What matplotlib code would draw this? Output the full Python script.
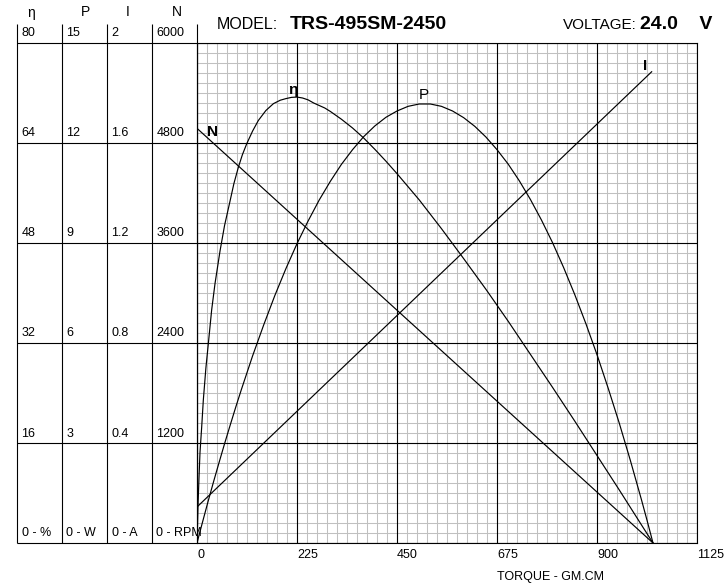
import matplotlib
matplotlib.use('Agg')
import matplotlib.pyplot as plt
import numpy as np
from matplotlib.ticker import FixedLocator

plt.rcParams['font.family'] = ['Liberation Sans', 'DejaVu Sans']

# ---------------- data ----------------
torque_eta = [0, 2.25, 4.5, 6.75, 10.5, 14.25, 20, 25.5, 33, 40.5, 51.75, 62, 74, 83, 93, 102,
              112, 125, 138, 155, 172, 187.5, 200, 212.5, 225, 237.5, 250, 262.5, 275, 287.5,
              300, 325, 350, 375, 400, 425, 450, 475, 500, 525, 550, 600, 650, 700, 750, 800,
              850, 900, 950, 1000, 1026]
efficiency = [0, 6, 10.5, 14.5, 18.5, 22.9, 28, 31.9, 37.3, 41.5, 46.7, 50.8, 54.6, 57.5, 60.1, 62.1,
              63.9, 65.9, 67.6, 69.2, 70.3, 70.85, 71.1, 71.3, 71.35, 71.2, 70.9, 70.4, 70.0, 69.6,
              69.05, 67.8, 66.4, 64.8, 63.0, 61.1, 59.1, 57.0, 54.9, 52.6, 50.3, 45.5, 40.6, 35.5, 30.2, 24.9,
              19.5, 14.0, 8.5, 2.9, 0]

torque_p = [0, 12.5, 25, 37.5, 50, 62.5, 75, 87.5, 100, 125, 150, 175, 200, 225, 250, 275, 300,
            325, 350, 375, 400, 425, 450, 475, 500, 525, 550, 575, 600, 625, 650, 675, 700, 725,
            750, 775, 800, 825, 850, 875, 900, 925, 950, 975, 1000, 1013, 1026]
power = [0, 0.63, 1.25, 1.85, 2.43, 3.00, 3.55, 4.09, 4.61, 5.61, 6.54, 7.42, 8.23, 8.98, 9.66,
         10.29, 10.85, 11.36, 11.80, 12.19, 12.51, 12.77, 12.96, 13.10, 13.17, 13.17, 13.10,
         12.96, 12.76, 12.50, 12.18, 11.80, 11.37, 10.87, 10.31, 9.69, 9.01, 8.26, 7.45, 6.58,
         5.65, 4.65, 3.60, 2.48, 1.30, 0.66, 0]

torque_n = [0, 1026]
speed = [4976, 0]

torque_i = [0, 1023]
current = [0.144, 1.885]

x_ticks = [0, 225, 450, 675, 900, 1125]
eta_scale = [0, 16, 32, 48, 64, 80]
p_scale = [0, 3, 6, 9, 12, 15]
i_scale = [0, 0.4, 0.8, 1.2, 1.6, 2]
n_scale = [0, 1200, 2400, 3600, 4800, 6000]
scale_names = ['η', 'P', 'I', 'N']
scale_units = ['%', 'W', 'A', 'RPM']

model = 'TRS-495SM-2450'
voltage = '24.0    V'

# ---------------- figure ----------------
W, H = 727, 587
fig = plt.figure(figsize=(W / 100, H / 100), dpi=100)
fig.patch.set_facecolor('white')

rect = [197 / W, 1 - 543 / H, 500 / W, 500 / H]
ax = fig.add_axes(rect)
ax.set_xlim(0, x_ticks[-1])
ax.set_ylim(eta_scale[0], eta_scale[-1])

minor_x = np.arange(0, x_ticks[-1] + 1e-6, 22.5)
minor_y = np.arange(0, eta_scale[-1] + 1e-6, 1.6)
ax.vlines(minor_x, 0, eta_scale[-1], color='#c0c0c0', lw=0.75, zorder=0.5)
ax.hlines(minor_y, 0, x_ticks[-1], color='#c0c0c0', lw=0.75, zorder=0.5)
ax.vlines(x_ticks, 0, eta_scale[-1], color='black', lw=0.8, zorder=1)
ax.hlines(eta_scale, 0, x_ticks[-1], color='black', lw=0.8, zorder=1)

ax.xaxis.set_major_locator(FixedLocator(x_ticks))
ax.set_xticklabels([str(t) for t in x_ticks])
ax.set_yticks([])
ax.tick_params(axis='x', length=0, pad=4, labelsize=9)
for lab in ax.get_xticklabels():
    lab.set_horizontalalignment('left')
for s in ax.spines.values():
    s.set_color('black')
    s.set_linewidth(0.8)

def twin(ylim):
    a = fig.add_axes(rect, sharex=ax)
    a.set_ylim(*ylim)
    a.axis('off')
    a.patch.set_alpha(0)
    return a

ax_p = twin((p_scale[0], p_scale[-1]))
ax_i = twin((i_scale[0], i_scale[-1]))
ax_n = twin((n_scale[0], n_scale[-1]))

lw = 0.85
ax.plot(torque_eta, efficiency, color='black', lw=lw, zorder=3)
ax_p.plot(torque_p, power, color='black', lw=lw)
ax_i.plot(torque_i, current, color='black', lw=lw)
ax_n.plot(torque_n, speed, color='black', lw=lw)

ax_n.text(22.5, 4880, 'N', fontsize=11, fontweight='bold', ha='left', va='baseline')
ax.text(205, 71.9, 'η', fontsize=11, fontweight='bold', ha='left', va='baseline', zorder=4)
ax_p.text(499, 13.32, 'P', fontsize=11, ha='left', va='baseline')
ax_i.text(1003, 1.894, 'I', fontsize=11, fontweight='bold', ha='left', va='baseline')

# ---------------- left scale panel ----------------
axl = fig.add_axes([17 / W, 1 - 543 / H, 180 / W, 500 / H])
axl.set_xlim(0, 4)
axl.set_ylim(0, 5)
axl.axis('off')
axl.vlines(range(5), 0, (543 - 24) / 100, color='black', lw=0.8, clip_on=False)
axl.hlines(range(6), 0, 4, color='black', lw=0.8, clip_on=False)

def fmt(v):
    return str(int(v)) if float(v).is_integer() else str(v)

scales = [eta_scale, p_scale, i_scale, n_scale]
for j, (vals, unit) in enumerate(zip(scales, scale_units)):
    for k, v in enumerate(vals):
        lab = f'0 - {unit}' if k == 0 else fmt(v)
        axl.text(j + 4.5 / 45, k + 3.5 / 100, lab, fontsize=9, ha='left', va='bottom',
                 clip_on=False)

header_x = [(31 - 17) / 45, (86 - 17) / 45, (128 - 17) / 45, (177 - 17) / 45]
for hx, name in zip(header_x, scale_names):
    axl.text(hx, (543 - 16.5) / 100, name, fontsize=10, ha='center', va='baseline',
             clip_on=False)

# ---------------- title ----------------
fig.text(217 / W, 1 - 29.3 / H, 'MODEL:', fontsize=11.5, ha='left', va='baseline')
fig.text(289.5 / W, 1 - 29.3 / H, model, fontsize=14, fontweight='bold', ha='left', va='baseline')
fig.text(563 / W, 1 - 29.3 / H, 'VOLTAGE:', fontsize=11, ha='left', va='baseline')
fig.text(640 / W, 1 - 29.3 / H, voltage, fontsize=14, fontweight='bold', ha='left', va='baseline')
fig.text(497 / W, 1 - 580 / H, 'TORQUE - GM.CM', fontsize=9, ha='left', va='baseline')

fig.savefig('out.png', dpi=100, facecolor='white')
